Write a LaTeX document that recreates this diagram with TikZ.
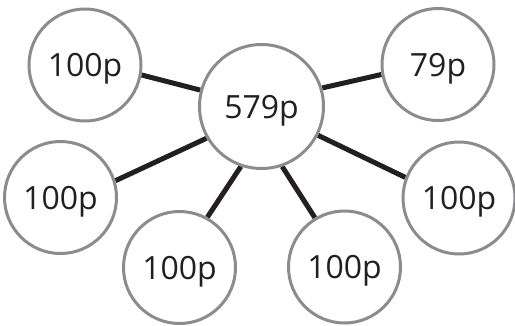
\documentclass[tikz,border=0pt]{standalone}
\usepackage{fontspec}
\setmainfont{Open Sans}
\usepackage{tikz}
\usetikzlibrary{backgrounds}
\definecolor{ringgray}{HTML}{8C8C8E}
\definecolor{linkdark}{HTML}{231F20}
\tikzset{
  coin/.style={circle, draw=ringgray, line width=3pt, fill=white, minimum size=112pt, inner sep=0pt,
    text=linkdark, text depth=0pt, font=\fontsize{32}{36}\selectfont},
  bigcoin/.style={coin, minimum size=124pt},
  link/.style={draw=linkdark, line width=5pt}
}
\begin{document}
\begin{tikzpicture}[x=1pt,y=-1pt]
\useasboundingbox (0,0) rectangle (515,325);
\node[bigcoin] (total) at (261.5,106.5) {579p};
\node[coin] (topleft) at (85,65) {100p};
\node[coin] (topright) at (438,64.5) {79p};
\node[coin] (midleft) at (60.5,197.5) {100p};
\node[coin] (midright) at (459,198) {100p};
\node[coin] (lowleft) at (179.5,267.5) {100p};
\node[coin] (lowright) at (344.5,267) {100p};
\begin{scope}[on background layer]
\draw[link] (total.165) -- (topleft.350);
\draw[link] (total.17) -- (topright.190);
\draw[link] (total.210) -- (midleft.17);
\draw[link] (total.333) -- (midright.159);
\draw[link] (total.251) -- (lowleft.61);
\draw[link] (total.289) -- (lowright.121);
\end{scope}
\end{tikzpicture}
\end{document}
